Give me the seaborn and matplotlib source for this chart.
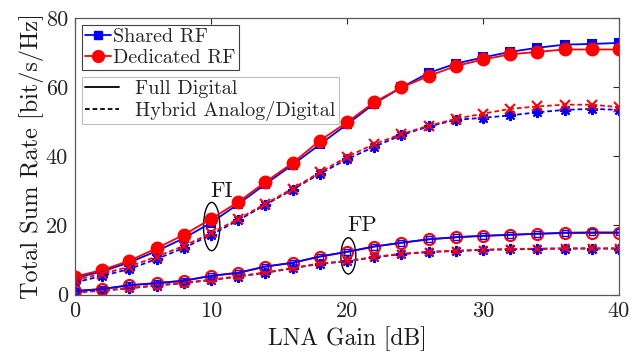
import numpy as np
import pandas as pd
import matplotlib
matplotlib.use("Agg")
import matplotlib.pyplot as plt
from matplotlib.patches import Ellipse
from matplotlib.lines import Line2D
import seaborn as sns

# ---- data ----
lna_gain = [0, 2, 4, 6, 8, 10, 12, 14, 16, 18, 20, 22, 24, 26, 28, 30, 32, 34, 36, 38, 40]

fi_shared_fd = [4.8, 6.7, 9.3, 12.6, 16.3, 20.8, 26.2, 32.0, 37.6, 43.5, 49.3, 55.3, 60.0, 64.2, 66.9, 68.7, 70.3, 71.5, 72.4, 72.6, 72.9]
fi_dedicated_fd = [5.2, 7.1, 9.8, 13.4, 17.3, 21.9, 26.8, 32.6, 38.1, 44.6, 49.9, 55.7, 60.0, 63.3, 66.2, 68.1, 69.6, 70.3, 71.0, 71.0, 71.0]
fi_shared_hy = [3.5, 5.4, 7.4, 10.3, 13.5, 17.3, 21.5, 26.0, 30.4, 35.0, 39.2, 42.8, 46.2, 48.7, 50.6, 51.2, 51.9, 52.8, 53.5, 53.8, 53.5]
fi_dedicated_hy = [4.2, 6.0, 8.1, 11.0, 14.1, 17.8, 21.9, 26.3, 30.7, 35.4, 39.9, 43.6, 46.5, 48.9, 50.9, 52.4, 53.8, 54.5, 55.0, 55.0, 54.3]

fp_shared_fd = [1.0, 1.6, 2.7, 3.3, 4.0, 5.4, 6.3, 8.1, 9.2, 11.0, 12.4, 13.9, 15.0, 16.0, 16.6, 17.0, 17.3, 17.6, 17.9, 18.0, 18.0]
fp_dedicated_fd = [1.0, 1.6, 2.7, 3.3, 4.0, 5.4, 6.3, 8.1, 9.2, 11.0, 12.3, 13.9, 15.0, 16.0, 16.6, 17.0, 17.3, 17.6, 17.8, 17.8, 17.8]
fp_shared_hy = [0.6, 1.1, 1.8, 2.6, 3.3, 4.2, 5.2, 6.3, 7.6, 8.9, 9.6, 10.8, 11.7, 12.3, 12.6, 12.9, 13.1, 13.2, 13.3, 13.3, 13.3]
fp_dedicated_hy = [0.7, 1.2, 1.9, 2.7, 3.4, 4.3, 5.3, 6.4, 7.7, 9.0, 9.7, 10.9, 11.8, 12.4, 12.7, 13.0, 13.2, 13.3, 13.4, 13.4, 13.4]

x_ticks = [0, 10, 20, 30, 40]
y_ticks = [0, 20, 40, 60, 80]

sns.set_theme(style="white")
plt.rcParams["font.family"] = ["cmr10", "DejaVu Serif"]
plt.rcParams["mathtext.fontset"] = "cm"
plt.rcParams["axes.formatter.use_mathtext"] = True
plt.rcParams["axes.unicode_minus"] = False

fig = plt.figure(figsize=(6.32, 3.54), dpi=100)
ax = fig.add_axes([0.1187, 0.168, 0.8607, 0.78])

BLUE = (0, 0, 1)
RED = (1, 0, 0)
dash = (2.6, 1.6)

def draw(y, color, marker, ms, dashed, mfc=None, mew=1.5):
    kw = dict(color=color, marker=marker, markersize=ms, linewidth=1.3,
              markeredgecolor=color, markeredgewidth=mew,
              markerfacecolor=(color if mfc is None else mfc))
    if dashed:
        kw["dashes"] = dash
    sns.lineplot(x=lna_gain, y=y, ax=ax, **kw)

# full-interference (FI) curves
draw(fi_shared_fd, BLUE, "s", 5.5, False)
draw(fi_dedicated_fd, RED, "o", 8.5, False)
draw(fi_shared_hy, BLUE, (8, 2, 0), 8, True)
draw(fi_dedicated_hy, RED, "x", 6.5, True)
# FP curves
draw(fp_shared_hy, BLUE, (8, 2, 0), 8, True)
draw(fp_dedicated_hy, RED, "x", 6, True)
draw(fp_dedicated_fd, RED, "o", 8, False, mfc="none", mew=1.5)
draw(fp_shared_fd, BLUE, "s", 4.5, False, mfc="none", mew=1.0)

ax.set_xlim(0, 40)
ax.set_ylim(0, 80)
ax.set_xticks(x_ticks)
ax.set_yticks(y_ticks)
ax.set_xticklabels([str(t) for t in x_ticks])
ax.set_yticklabels([str(t) for t in y_ticks])
ax.tick_params(direction="in", top=True, right=True, length=4, width=0.8,
               labelsize=16, colors="0.15", pad=5)
ax.set_xlabel("LNA Gain [dB]", fontsize=17, color="0.1", labelpad=4)
ax.set_ylabel("Total Sum Rate [bit/s/Hz]", fontsize=17.5, color="0.1", labelpad=1)
for s in ax.spines.values():
    s.set_color("0.35")
    s.set_linewidth(0.9)

# annotations
ax.add_patch(Ellipse((10.05, 19.7), 1.2, 14, fill=False, edgecolor="black", linewidth=1.0))
ax.text(10.8, 29.8, "FI", fontsize=16, ha="center", va="center", color="0.1")
ax.add_patch(Ellipse((20.1, 11.2), 1.1, 10.5, fill=False, edgecolor="black", linewidth=1.0))
ax.text(21.1, 20.0, "FP", fontsize=16, ha="center", va="center", color="0.1")

# legends
h1 = [Line2D([], [], color=BLUE, marker="s", markersize=5.5, linewidth=1.3),
      Line2D([], [], color=RED, marker="o", markersize=8.5, linewidth=1.3)]
leg1 = ax.legend(h1, ["Shared RF", "Dedicated RF"], loc="upper left",
                 bbox_to_anchor=(0.0125, 0.977), fontsize=14.5, frameon=True,
                 fancybox=False, edgecolor="0.25", framealpha=1,
                 handlelength=1.3, handletextpad=0.1, borderpad=0.15,
                 labelspacing=0.15, borderaxespad=0)
leg1.get_frame().set_linewidth(0.8)
ax.add_artist(leg1)
h2 = [Line2D([], [], color="black", linewidth=1.3),
      Line2D([], [], color="black", linewidth=1.3, dashes=dash)]
leg2 = ax.legend(h2, ["Full Digital", "Hybrid Analog/Digital"], loc="upper left",
                 bbox_to_anchor=(0.0125, 0.787), fontsize=14.5, frameon=True,
                 fancybox=False, edgecolor="0.75", framealpha=1,
                 handlelength=1.7, handletextpad=0.8, borderpad=0.15,
                 labelspacing=0.15, borderaxespad=0)
leg2.get_frame().set_linewidth(0.8)

fig.savefig("out.png", dpi=100)
